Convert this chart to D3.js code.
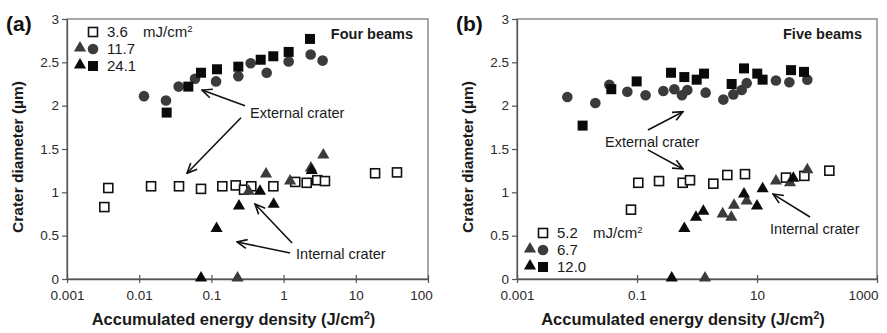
<!DOCTYPE html>
<html><head><meta charset="utf-8">
<script src="https://cdn.jsdelivr.net/npm/d3@7"></script>
<style>
body{margin:0;background:#fff}
text{font-family:"Liberation Sans",Arial,Helvetica,sans-serif}
</style>
</head><body>
<svg id="chart" width="887" height="333"></svg>
<script>
// ---- Panel (a): four beams ----
const a36Open   = [[0.00329,0.83],[0.00373,1.05],[0.0146,1.07],[0.0356,1.07],[0.0718,1.04],[0.1416,1.07],[0.217,1.08],[0.283,1.03],[0.357,1.07],[0.721,1.07],[1.45,1.12],[2.09,1.11],[2.93,1.14],[3.74,1.13],[18.5,1.22],[37.2,1.23]];
const a117Tri   = [[0.23,0],[0.328,1.0],[0.571,1.2],[1.23,1.12],[2.39,1.27],[3.55,1.42]];
const a241Tri   = [[0.0718,0],[0.118,0.57],[0.241,0.83],[0.471,1.0],[0.728,0.85],[2.45,1.24]];
const a117Circ  = [[0.01165,2.11],[0.0235,2.06],[0.0352,2.22],[0.0593,2.31],[0.116,2.28],[0.236,2.34],[0.35,2.49],[0.583,2.38],[1.175,2.51],[2.37,2.59],[3.47,2.52]];
const a241Sq    = [[0.024,1.92],[0.0479,2.22],[0.0718,2.38],[0.1196,2.42],[0.236,2.45],[0.482,2.53],[0.72,2.57],[1.175,2.62],[2.32,2.77]];
const aLegend   = ["3.6", "11.7", "24.1"];
const aXTicks   = [0.001, 0.01, 0.1, 1, 10, 100];

// ---- Panel (b): five beams ----
const b52Open   = [[0.0794,0.8],[0.105,1.11],[0.233,1.13],[0.577,1.11],[0.764,1.14],[1.87,1.1],[3.2,1.2],[6.31,1.21],[30.4,1.17],[61.5,1.19],[160.6,1.25]];
const b67Tri    = [[1.36,0],[2.68,0.74],[3.73,0.7],[4.14,0.84],[6.73,0.89],[20.7,1.12],[35.5,1.1],[69,1.25]];
const b120Tri   = [[0.379,0],[0.615,0.57],[0.962,0.7],[1.276,0.77],[6.07,0.97],[10.0,0.83],[12.4,1.03],[40.3,1.15]];
const b67Circ   = [[0.0069,2.1],[0.0202,2.03],[0.0346,2.24],[0.069,2.16],[0.139,2.12],[0.275,2.17],[0.419,2.19],[0.562,2.12],[0.69,2.18],[1.393,2.15],[2.75,2.07],[4.03,2.13],[5.56,2.18],[6.73,2.26],[20.7,2.29],[34.6,2.27],[69,2.3]];
const b120Sq    = [[0.0124,1.77],[0.0373,2.19],[0.0987,2.28],[0.369,2.38],[0.615,2.33],[0.987,2.3],[1.31,2.37],[3.78,2.25],[6.07,2.43],[10.1,2.37],[12.4,2.3],[36.9,2.41],[60.7,2.39]];
const bLegend   = ["5.2", "6.7", "12.0"];
const bXTicks   = [0.001, 0.1, 10, 1000];

const yTicks = [0, 0.5, 1, 1.5, 2, 2.5, 3];

// annotation arrows in data units: [x0,y0,x1,y1]
const aExtArrows = [[0.292,2.0,0.0741,2.18],[0.257,1.86,0.0459,1.22]];
const aIntArrows = [[1.31,0.415,0.402,0.865],[1.23,0.30,0.226,0.427]];
const bExtArrows = [[0.152,1.72,0.584,1.93],[0.152,1.49,0.584,1.27]];
const bIntArrows = [[76.4,0.715,18.5,0.98]];

const svg = d3.select("#chart");
const BLACK = "#0a0a0a", GRAY = "#3b3b3b";

svg.append("defs").append("marker")
  .attr("id","arrow").attr("markerUnits","userSpaceOnUse")
  .attr("viewBox","0 0 12 12").attr("refX",11).attr("refY",6)
  .attr("markerWidth",12).attr("markerHeight",12).attr("orient","auto")
  .append("path").attr("d","M1,1.5 L11,6 L1,10.5")
  .attr("fill","none").attr("stroke","#111").attr("stroke-width",1.6);

function panel(cfg) {
  const x = d3.scaleLog().domain(cfg.xDomain).range([cfg.left, cfg.right]);
  const y = d3.scaleLinear().domain([0,3]).range([279, 19]);
  const g = svg.append("g");

  // frame
  g.append("rect").attr("x",cfg.left).attr("y",19)
    .attr("width",cfg.right-cfg.left).attr("height",260)
    .attr("fill","none").attr("stroke","#7a7a7a").attr("stroke-width",1.3);

  // y axis
  const ya = g.append("g").attr("transform",`translate(${cfg.left},0)`)
    .call(d3.axisLeft(y).tickValues(yTicks).tickFormat(d3.format("")).tickSizeInner(5).tickSizeOuter(0));
  ya.select(".domain").attr("stroke","#555").attr("stroke-width",1.3);
  ya.selectAll(".tick line").attr("stroke","#555").attr("stroke-width",1.2);
  ya.selectAll("text").attr("font-size",13.5).attr("fill","#2a2a2a")
    .attr("font-family","Liberation Sans, Arial, sans-serif").attr("x",-8);

  // x axis (ticks cross the axis line)
  const xa = g.append("g").attr("transform","translate(0,279)")
    .call(d3.axisBottom(x).tickValues(cfg.xTicks).tickFormat(d => String(+d.toPrecision(3))).tickSizeInner(4).tickSizeOuter(0));
  xa.select(".domain").attr("stroke","#555").attr("stroke-width",1.3);
  xa.selectAll(".tick line").attr("y1",-4).attr("y2",4).attr("stroke","#555").attr("stroke-width",1.2);
  xa.selectAll("text").attr("font-size",13.5).attr("fill","#2a2a2a")
    .attr("font-family","Liberation Sans, Arial, sans-serif").attr("y",11);
  // last label sits left of its tick so it stays inside the page
  xa.selectAll("text").filter((d,i,n) => i === n.length-1)
    .attr("text-anchor","middle").attr("dx", cfg.lastLabelShift);

  // axis titles
  g.append("text").attr("x",(cfg.left+cfg.right)/2 - 14).attr("y",325)
    .attr("text-anchor","middle").attr("font-size",16.5).attr("font-weight","bold").attr("fill","#1a1a1a")
    .html("Accumulated energy density (J/cm<tspan baseline-shift=\"super\" font-size=\"10.5\">2</tspan>)");
  g.append("text").attr("transform",`translate(${cfg.left-44},157) rotate(-90)`)
    .attr("text-anchor","middle").attr("font-size",15.5).attr("font-weight","bold").attr("fill","#1a1a1a")
    .text("Crater diameter (µm)");

  // panel letter
  g.append("text").attr("x",cfg.left-61).attr("y",31).attr("font-size",21).attr("font-weight","bold")
    .attr("fill","#111").text(cfg.letter);

  // beam count
  g.append("text").attr("x",cfg.right-15).attr("y",39).attr("text-anchor","end")
    .attr("font-size",14.5).attr("font-weight","bold").attr("fill","#1a1a1a").text(cfg.beams);

  // markers
  const sq = 10, tri = d3.symbol().type(d3.symbolTriangle).size(64), circ = 5.3;
  g.append("g").selectAll("rect").data(cfg.open).join("rect")
    .attr("x",d=>x(d[0])-sq/2+0.5).attr("y",d=>y(d[1])-sq/2+0.5)
    .attr("width",sq-1).attr("height",sq-1)
    .attr("fill","#fff").attr("stroke","#111").attr("stroke-width",1.6);
  g.append("g").selectAll("path").data(cfg.triGray).join("path")
    .attr("d",tri).attr("transform",d=>`translate(${x(d[0])},${y(d[1])-1})`).attr("fill",GRAY);
  g.append("g").selectAll("path").data(cfg.triBlack).join("path")
    .attr("d",tri).attr("transform",d=>`translate(${x(d[0])},${y(d[1])-1})`).attr("fill",BLACK);
  g.append("g").selectAll("circle").data(cfg.circ).join("circle")
    .attr("cx",d=>x(d[0])).attr("cy",d=>y(d[1])).attr("r",circ).attr("fill",GRAY);
  g.append("g").selectAll("rect").data(cfg.sq).join("rect")
    .attr("x",d=>x(d[0])-sq/2).attr("y",d=>y(d[1])-sq/2)
    .attr("width",sq).attr("height",sq).attr("fill",BLACK);

  // legend
  const lx = cfg.legX, ly = cfg.legY, dy = 17;
  const lg = g.append("g");
  lg.append("rect").attr("x",lx-4.5).attr("y",ly-4.5).attr("width",9).attr("height",9)
    .attr("fill","#fff").attr("stroke","#111").attr("stroke-width",1.6);
  lg.append("path").attr("d",tri).attr("transform",`translate(${lx-13},${ly+dy-1})`).attr("fill",GRAY);
  lg.append("circle").attr("cx",lx).attr("cy",ly+dy).attr("r",circ).attr("fill",GRAY);
  lg.append("path").attr("d",tri).attr("transform",`translate(${lx-13},${ly+2*dy-1})`).attr("fill",BLACK);
  lg.append("rect").attr("x",lx-5).attr("y",ly+2*dy-5).attr("width",10).attr("height",10).attr("fill",BLACK);
  cfg.legend.forEach((t,i)=>{
    lg.append("text").attr("x",lx+14).attr("y",ly+i*dy+5).attr("font-size",15).attr("fill","#1a1a1a").text(t);
  });
  lg.append("text").attr("x",lx+50).attr("y",ly+5).attr("font-size",15).attr("fill","#1a1a1a")
    .html("mJ/cm<tspan baseline-shift=\"super\" font-size=\"9.5\">2</tspan>");

  // annotations
  const arrows = cfg.extArrows.concat(cfg.intArrows);
  g.append("g").selectAll("line").data(arrows).join("line")
    .attr("x1",d=>x(d[0])).attr("y1",d=>y(d[1])).attr("x2",d=>x(d[2])).attr("y2",d=>y(d[3]))
    .attr("stroke","#111").attr("stroke-width",1.6).attr("marker-end","url(#arrow)");
  g.append("text").attr("x",x(cfg.extLabel[0])).attr("y",y(cfg.extLabel[1])+5)
    .attr("font-size",14.5).attr("fill","#1a1a1a").text("External crater");
  g.append("text").attr("x",x(cfg.intLabel[0])).attr("y",y(cfg.intLabel[1])+5)
    .attr("font-size",14.5).attr("fill","#1a1a1a").text("Internal crater");
}

panel({
  letter:"(a)", beams:"Four beams", left:67, right:428, xDomain:[0.001,100], xTicks:aXTicks, lastLabelShift:-7,
  open:a36Open, triGray:a117Tri, triBlack:a241Tri, circ:a117Circ, sq:a241Sq,
  legend:aLegend, legX:93, legY:32,
  extArrows:aExtArrows, intArrows:aIntArrows, extLabel:[0.343,1.91], intLabel:[1.49,0.29]
});
panel({
  letter:"(b)", beams:"Five beams", left:517, right:877, xDomain:[0.001,1000], xTicks:bXTicks, lastLabelShift:-14,
  open:b52Open, triGray:b67Tri, triBlack:b120Tri, circ:b67Circ, sq:b120Sq,
  legend:bLegend, legX:543, legY:233,
  extArrows:bExtArrows, intArrows:bIntArrows, extLabel:[0.0293,1.58], intLabel:[16.5,0.58]
});
</script>
</body></html>
